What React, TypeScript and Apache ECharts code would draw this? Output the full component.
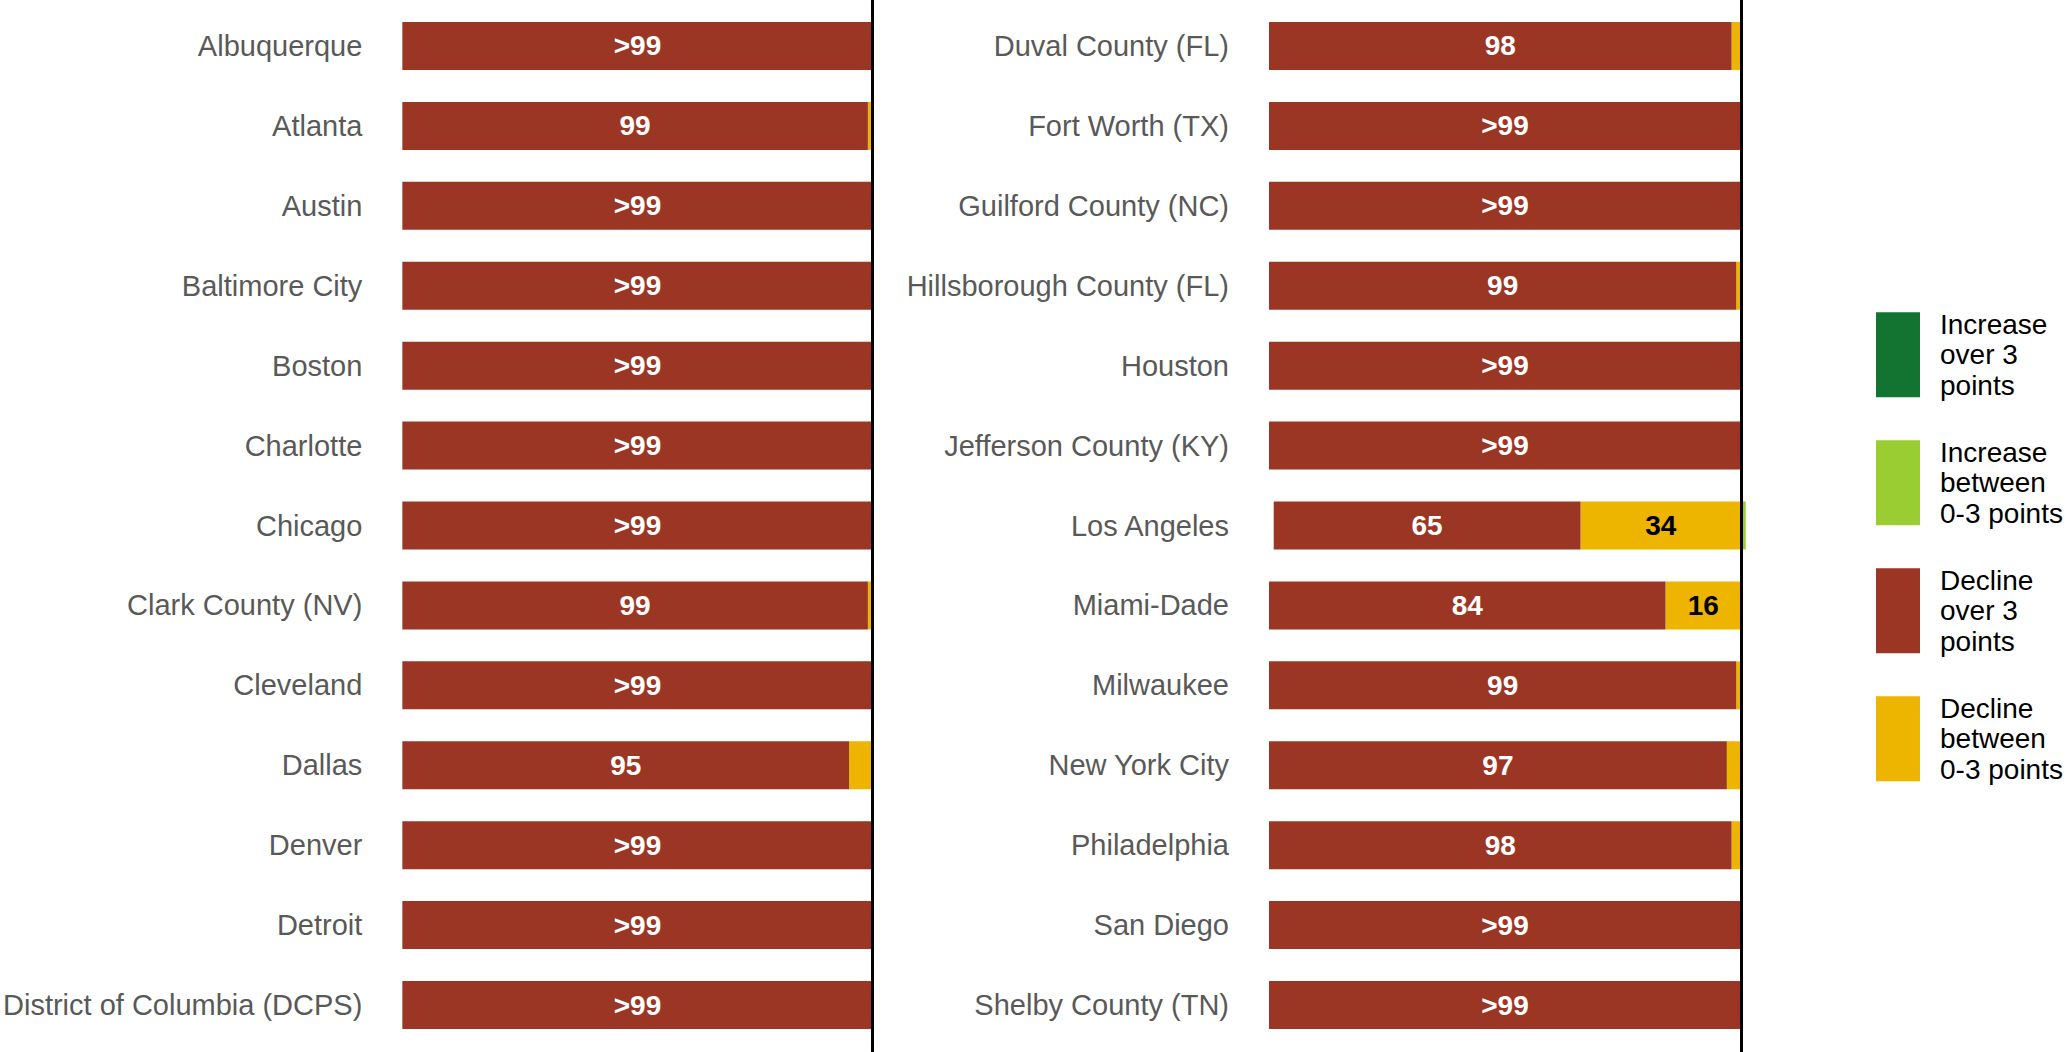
import React, { useEffect, useRef } from "react";
import * as echarts from "echarts";

const districtsLeft = [
  "Albuquerque", "Atlanta", "Austin", "Baltimore City", "Boston", "Charlotte", "Chicago",
  "Clark County (NV)", "Cleveland", "Dallas", "Denver", "Detroit", "District of Columbia (DCPS)",
];
const declineOverLeft = [100, 99, 100, 100, 100, 100, 100, 99, 100, 95, 100, 100, 100];
const declineSmallLeft = [0, 1, 0, 0, 0, 0, 0, 1, 0, 5, 0, 0, 0];
const increaseSmallLeft = [0, 0, 0, 0, 0, 0, 0, 0, 0, 0, 0, 0, 0];
const increaseOverLeft = [0, 0, 0, 0, 0, 0, 0, 0, 0, 0, 0, 0, 0];

const districtsRight = [
  "Duval County (FL)", "Fort Worth (TX)", "Guilford County (NC)", "Hillsborough County (FL)",
  "Houston", "Jefferson County (KY)", "Los Angeles", "Miami-Dade", "Milwaukee",
  "New York City", "Philadelphia", "San Diego", "Shelby County (TN)",
];
const declineOverRight = [98, 100, 100, 99, 100, 100, 65, 84, 99, 97, 98, 100, 100];
const declineSmallRight = [2, 0, 0, 1, 0, 0, 34, 16, 1, 3, 2, 0, 0];
const increaseSmallRight = [0, 0, 0, 0, 0, 0, 1, 0, 0, 0, 0, 0, 0];
const increaseOverRight = [0, 0, 0, 0, 0, 0, 0, 0, 0, 0, 0, 0, 0];

const legendNames = [
  "Increase over 3 points",
  "Increase between 0-3 points",
  "Decline over 3 points",
  "Decline between 0-3 points",
];
const legendLabels = [
  "Increase\nover 3\npoints",
  "Increase\nbetween\n0-3 points",
  "Decline\nover 3\npoints",
  "Decline\nbetween\n0-3 points",
];

const DARK_GREEN = "#137330";
const LIGHT_GREEN = "#9ACD32";
const RED = "#9B3624";
const GOLD = "#EEB500";
const FONT = '"Liberation Sans", Arial, sans-serif';

const fmt = (p: any) => {
  const v = Math.abs(Number(p.value));
  if (v >= 99.5) return ">99";
  if (v >= 10) return String(Math.round(v));
  return "";
};

function makeSeries(idx: number, stack: string, dOver: number[], dSmall: number[], iSmall: number[], iOver: number[]) {
  const common = {
    type: "bar",
    stack,
    xAxisIndex: idx,
    yAxisIndex: idx,
    barWidth: 48,
    emphasis: { disabled: true },
  };
  return [
    {
      ...common,
      name: "Decline between 0-3 points",
      data: dSmall.map((v) => -v),
      itemStyle: { color: GOLD },
      label: { show: true, position: "inside", formatter: fmt, color: "#000", fontWeight: "bold", fontSize: 28, fontFamily: FONT },
    },
    {
      ...common,
      name: "Decline over 3 points",
      data: dOver.map((v) => -v),
      itemStyle: { color: RED },
      label: { show: true, position: "inside", formatter: fmt, color: "#fff", fontWeight: "bold", fontSize: 28, fontFamily: FONT },
    },
    {
      ...common,
      name: "Increase between 0-3 points",
      data: iSmall,
      itemStyle: { color: LIGHT_GREEN },
      label: { show: true, position: "inside", formatter: fmt, color: "#000", fontWeight: "bold", fontSize: 28, fontFamily: FONT },
    },
    {
      ...common,
      name: "Increase over 3 points",
      data: iOver,
      itemStyle: { color: DARK_GREEN },
      label: { show: true, position: "inside", formatter: fmt, color: "#fff", fontWeight: "bold", fontSize: 28, fontFamily: FONT },
    },
  ];
}

export default function App() {
  const ref = useRef<HTMLDivElement>(null);
  useEffect(() => {
    document.body.style.margin = "0";
    if (!ref.current) return;
    const chart = echarts.init(ref.current, null, { renderer: "svg" });
    const gridW = 495.6;
    const valueAxis = (gi: number) => ({
      type: "value",
      gridIndex: gi,
      min: -100,
      max: 5,
      show: false,
    });
    const catAxis = (gi: number, data: string[]) => ({
      type: "category",
      gridIndex: gi,
      data,
      inverse: true,
      axisLine: { show: false },
      axisTick: { show: false },
      splitLine: { show: false },
      axisLabel: { margin: 40, fontSize: 29, color: "#595959", fontFamily: FONT },
    });
    const hiddenCat = (gi: number) => ({ type: "category", gridIndex: gi, data: [""], show: false });
    const zeroLine = (idx: number) => ({
      type: "scatter",
      xAxisIndex: idx,
      yAxisIndex: idx,
      data: [[0, ""]],
      symbolSize: 0,
      silent: true,
      z: 10,
      markLine: {
        silent: true,
        symbol: ["none", "none"],
        label: { show: false },
        lineStyle: { color: "#000", width: 3, type: "solid" },
        data: [{ xAxis: 0 }],
      },
    });
    chart.setOption({
      animation: false,
      backgroundColor: "#fff",
      textStyle: { fontFamily: FONT },
      legend: {
        data: legendNames,
        orient: "vertical",
        left: 1876,
        top: 309,
        padding: 0,
        itemWidth: 44,
        itemHeight: 85,
        itemGap: 36.5,
        icon: "rect",
        selectedMode: false,
        formatter: (name: string) => legendLabels[legendNames.indexOf(name)],
        textStyle: { fontSize: 28, lineHeight: 30.5, color: "#000", fontFamily: FONT, padding: [0, 0, 0, 15] },
      },
      grid: [
        { left: 400.5, top: 6, width: gridW, height: 1039 },
        { left: 1269, top: 6, width: gridW, height: 1039 },
        { left: 400.5, top: 0, width: gridW, height: 1052 },
        { left: 1269, top: 0, width: gridW, height: 1052 },
      ],
      xAxis: [valueAxis(0), valueAxis(1), valueAxis(2), valueAxis(3)],
      yAxis: [catAxis(0, districtsLeft), catAxis(1, districtsRight), hiddenCat(2), hiddenCat(3)],
      series: [
        ...makeSeries(0, "left", declineOverLeft, declineSmallLeft, increaseSmallLeft, increaseOverLeft),
        ...makeSeries(1, "right", declineOverRight, declineSmallRight, increaseSmallRight, increaseOverRight),
        zeroLine(2),
        zeroLine(3),
      ],
    });
    return () => chart.dispose();
  }, []);
  return <div ref={ref} style={{ width: 2066, height: 1052 }} />;
}
